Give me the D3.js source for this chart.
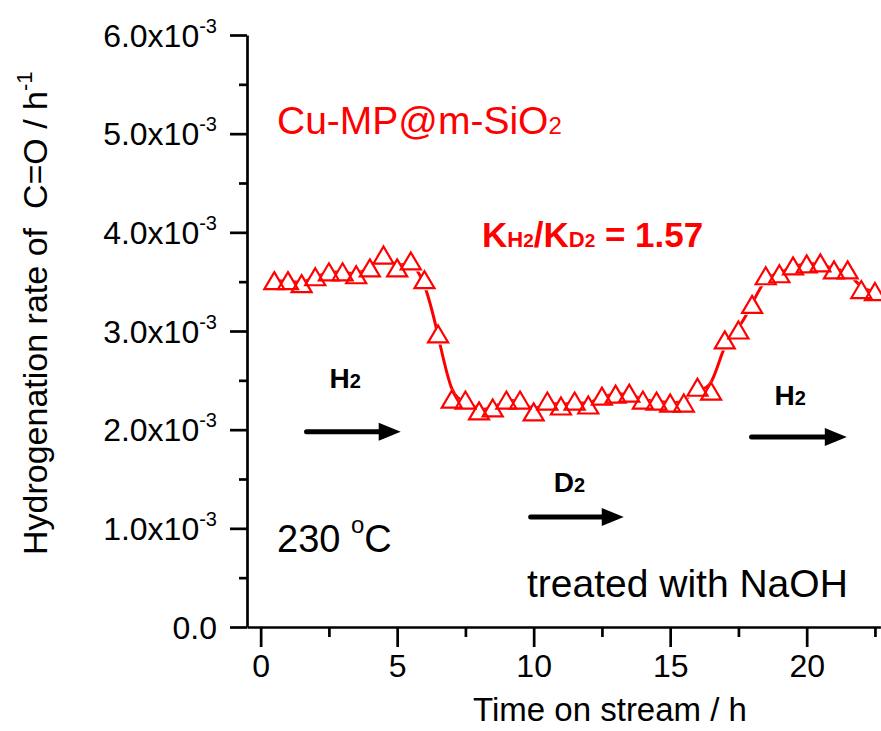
<!DOCTYPE html>
<html>
<head>
<meta charset="utf-8">
<script src="https://cdn.jsdelivr.net/npm/d3@7"></script>
<style>
  html, body { margin: 0; padding: 0; background: #fff; }
  svg { display: block; font-family: "Liberation Sans", Arial, Helvetica, sans-serif; }
  text { white-space: pre; }
</style>
</head>
<body>
<svg id="chart" width="881" height="731"></svg>
<script>
// Time on stream (h) for each measurement
const timeHours = [
  0.5, 1.0, 1.5, 2.0, 2.5, 3.0, 3.5, 4.0, 4.5, 5.0, 5.5, 6.0, 6.5,
  7.0, 7.5, 8.0, 8.5, 9.0, 9.5, 10.0, 10.5, 11.0, 11.5, 12.0, 12.5,
  13.0, 13.5, 14.0, 14.5, 15.0, 15.5, 16.0, 16.5, 17.0, 17.5, 18.0,
  18.5, 19.0, 19.5, 20.0, 20.5, 21.0, 21.5, 22.0, 22.5
];
// Hydrogenation rate of C=O, in units of 1e-3 h^-1
const rateValues = [
  3.51, 3.51, 3.48, 3.55, 3.60, 3.60, 3.57, 3.64, 3.77, 3.64, 3.71, 3.52, 2.97,
  2.31, 2.30, 2.19, 2.22, 2.30, 2.30, 2.18, 2.29, 2.24, 2.29, 2.25, 2.34,
  2.36, 2.37, 2.30, 2.29, 2.27, 2.27, 2.43, 2.39, 2.91, 3.01, 3.27,
  3.56, 3.58, 3.66, 3.68, 3.69, 3.62, 3.62, 3.42, 3.40
];
const yTickValues = [0, 1, 2, 3, 4, 5, 6];
const yTickMantissas = ["0.0", "1.0x10", "2.0x10", "3.0x10", "4.0x10", "5.0x10", "6.0x10"];
const yTickExponents = ["", "-3", "-3", "-3", "-3", "-3", "-3"];
const yMinorTicks = [0.5, 1.5, 2.5, 3.5, 4.5, 5.5];
const xTickValues = [0, 5, 10, 15, 20];
const xMinorTicks = [2.5, 7.5, 12.5, 17.5, 22.5];
// Gas-switch arrows: [start h, end h, rate level]
const gasArrows = [
  { gas: "H", from: 1.68, to: 5.13, level: 1.98 },
  { gas: "D", from: 9.89, to: 13.3, level: 1.115 },
  { gas: "H", from: 17.98, to: 21.47, level: 1.926 }
];

const svg = d3.select("#chart");
const W = 881, H = 731;
const red = "#ff0000";

const x = d3.scaleLinear().domain([-0.5, 22.7]).range([247, 880.4]);
const y = d3.scaleLinear().domain([0, 6]).range([627, 35]);

const data = timeHours.map((t, i) => ({ t, v: rateValues[i] }));

// ---- axes ----
const axisStroke = 2.7;

const yAxisG = svg.append("g").attr("transform", `translate(${x(-0.5)},0)`);
yAxisG.call(d3.axisLeft(y).tickValues(yTickValues).tickSize(17).tickSizeOuter(0).tickFormat(""));
const yMinorG = svg.append("g").attr("transform", `translate(${x(-0.5)},0)`);
yMinorG.call(d3.axisLeft(y).tickValues(yMinorTicks).tickSize(8).tickSizeOuter(0).tickFormat(""));
yMinorG.select(".domain").remove();

const xAxisG = svg.append("g").attr("transform", `translate(0,${y(0)})`);
xAxisG.call(d3.axisBottom(x).tickValues(xTickValues).tickSize(20).tickSizeOuter(0).tickFormat(d3.format("d")));
const xMinorG = svg.append("g").attr("transform", `translate(0,${y(0)})`);
xMinorG.call(d3.axisBottom(x).tickValues(xMinorTicks).tickSize(10).tickSizeOuter(0).tickFormat(""));
xMinorG.select(".domain").remove();

svg.selectAll(".domain, .tick line")
  .attr("stroke", "#000")
  .attr("stroke-width", axisStroke);

xAxisG.selectAll(".tick text")
  .attr("y", 50).attr("dy", 0)
  .attr("font-size", 32)
  .attr("font-family", "Liberation Sans, Arial, sans-serif")
  .attr("fill", "#000");

// y tick labels with superscript exponents
yAxisG.selectAll(".tick").each(function(d) {
  const i = yTickValues.indexOf(d);
  const g = d3.select(this);
  g.select("text").remove();
  const t = g.append("text")
    .attr("x", -30).attr("y", 11)
    .attr("text-anchor", "end")
    .attr("font-size", 32)
    .attr("fill", "#000");
  t.append("tspan").text(yTickMantissas[i]);
  if (yTickExponents[i]) {
    t.append("tspan").attr("font-size", 20).attr("dy", -14).text(yTickExponents[i]);
  }
});

// axis titles
svg.append("text")
  .attr("x", 610).attr("y", 721)
  .attr("text-anchor", "middle")
  .attr("font-size", 33)
  .attr("fill", "#000")
  .text("Time on stream / h");

const yTitle = svg.append("text")
  .attr("transform", "translate(47,555) rotate(-90)")
  .attr("font-size", 34)
  .attr("fill", "#000");
yTitle.append("tspan").text("Hydrogenation rate of  C=O / h");
yTitle.append("tspan").attr("font-size", 22).attr("dy", -15).text("-1");

// ---- data series ----
const triangle = (w, h) => `M0,${-h / 2}L${w / 2},${h / 2}L${-w / 2},${h / 2}Z`;

// the connecting line is interrupted around each symbol
const defs = svg.append("defs");
const mask = defs.append("mask")
  .attr("id", "symbolGap")
  .attr("maskUnits", "userSpaceOnUse")
  .attr("x", 0).attr("y", 0).attr("width", W).attr("height", H);
mask.append("rect").attr("width", W).attr("height", H).attr("fill", "#fff");
mask.selectAll("path").data(data).join("path")
  .attr("d", triangle(24, 21))
  .attr("transform", d => `translate(${x(d.t)},${y(d.v)})`)
  .attr("fill", "#000");

const line = d3.line().x(d => x(d.t)).y(d => y(d.v)).curve(d3.curveBasis);
svg.append("path")
  .datum(data)
  .attr("d", line)
  .attr("fill", "none")
  .attr("stroke", red)
  .attr("stroke-width", 3)
  .attr("mask", "url(#symbolGap)");

svg.append("g").selectAll("path").data(data).join("path")
  .attr("d", triangle(20, 17))
  .attr("transform", d => `translate(${x(d.t)},${y(d.v)})`)
  .attr("fill", "none")
  .attr("stroke", red)
  .attr("stroke-width", 2.2);

// ---- annotations ----
const sample = svg.append("text")
  .attr("x", 277).attr("y", 134)
  .attr("font-size", 39).attr("fill", red);
sample.append("tspan").text("Cu-MP@m-SiO");
sample.append("tspan").attr("font-size", 24).text("2");

const kie = svg.append("text")
  .attr("x", 482).attr("y", 247)
  .attr("font-size", 35).attr("font-weight", "bold").attr("fill", red);
kie.append("tspan").text("K");
kie.append("tspan").attr("font-size", 22).text("H");
kie.append("tspan").attr("font-size", 19).text("2");
kie.append("tspan").text("/K");
kie.append("tspan").attr("font-size", 22).text("D");
kie.append("tspan").attr("font-size", 19).text("2");
kie.append("tspan").text(" = 1.57");

const temp = svg.append("text")
  .attr("x", 277).attr("y", 552)
  .attr("font-size", 38).attr("fill", "#000");
temp.append("tspan").text("230 ");
temp.append("tspan").attr("font-size", 24).attr("dy", -19).text("o");
temp.append("tspan").attr("dy", 19).text("C");

svg.append("text")
  .attr("x", 527).attr("y", 597)
  .attr("font-size", 39).attr("fill", "#000")
  .text("treated with NaOH");

// gas-switch arrows with labels
const arrowG = svg.append("g");
const labelOffsets = [44, 25, 32];
gasArrows.forEach((a, i) => {
  const x0 = x(a.from), x1 = x(a.to), yy = y(a.level);
  const headLen = 22, headHalf = 9;
  arrowG.append("line")
    .attr("x1", x0).attr("y1", yy)
    .attr("x2", x1 - headLen + 2).attr("y2", yy)
    .attr("stroke", "#000").attr("stroke-width", 5)
    .attr("stroke-linecap", "round");
  arrowG.append("path")
    .attr("d", `M${x1},${yy}L${x1 - headLen},${yy - headHalf}L${x1 - headLen},${yy + headHalf}Z`)
    .attr("fill", "#000");
  const lbl = arrowG.append("text")
    .attr("x", x0 + 23).attr("y", yy - labelOffsets[i])
    .attr("font-size", 28).attr("font-weight", "bold").attr("fill", "#000");
  lbl.append("tspan").text(a.gas);
  lbl.append("tspan").attr("font-size", 20).text("2");
});
</script>
</body>
</html>
